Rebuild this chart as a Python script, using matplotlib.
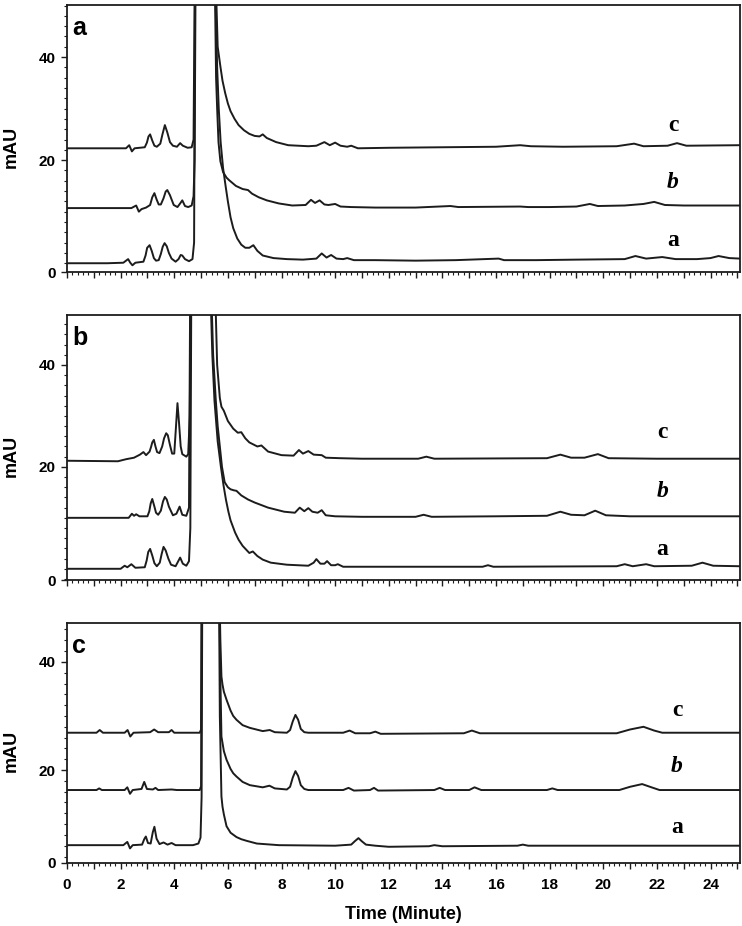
import matplotlib
matplotlib.use("Agg")
import matplotlib.pyplot as plt
from matplotlib.ticker import MultipleLocator, FuncFormatter

# ---------------- data (time in minutes, signal in mAU) ----------------
# Panel a
A_a = [(0, 0.0), (1.5, 0.0), (2.1, 0.1), (2.28, 0.8), (2.36, 0.1), (2.44, -0.4), (2.55, 0.1),
       (2.85, 0.3), (2.93, 1.5), (2.99, 3.0), (3.08, 3.5), (3.16, 2.4), (3.24, 1.0), (3.32, 0.5),
       (3.42, 0.6), (3.5, 1.8), (3.57, 3.2), (3.64, 3.9), (3.72, 3.3), (3.8, 2.0), (3.9, 0.9),
       (4.05, 0.3), (4.16, 0.8), (4.24, 1.6), (4.3, 1.5), (4.4, 0.8), (4.55, 0.4), (4.68, 0.8),
       (4.74, 4.0), (4.78, 60), (5.5, 60), (5.6, 38), (5.66, 30), (5.73, 23.5), (5.82, 18.5),
       (5.92, 14.8), (6.0, 12.0), (6.1, 8.9), (6.2, 6.8), (6.35, 4.8), (6.5, 3.6), (6.65, 3.0),
       (6.8, 3.0), (6.95, 3.5), (7.1, 2.4), (7.3, 1.5), (7.7, 1.0), (8.2, 0.8), (8.8, 0.7),
       (9.3, 0.9), (9.5, 1.9), (9.68, 1.1), (9.85, 1.6), (10.05, 0.9), (10.3, 0.8), (10.45, 1.0),
       (10.7, 0.6), (11.5, 0.6), (13.0, 0.5), (14.5, 0.6), (16.1, 0.9), (16.3, 0.6), (17.5, 0.6),
       (19.0, 0.7), (20.8, 0.8), (21.2, 1.4), (21.6, 0.9), (22.2, 1.2), (22.7, 0.8), (23.5, 0.8),
       (24.0, 1.0), (24.3, 1.4), (24.7, 1.0), (25.1, 0.9)]
A_b = [(0, 10.7), (2.4, 10.7), (2.58, 11.2), (2.68, 10.0), (2.78, 10.5), (2.95, 10.8), (3.1, 11.3),
       (3.18, 12.8), (3.26, 13.6), (3.34, 12.4), (3.42, 11.4), (3.5, 11.4), (3.6, 12.6), (3.68, 13.9),
       (3.74, 14.2), (3.84, 13.2), (3.98, 11.3), (4.12, 10.9), (4.22, 11.6), (4.3, 12.2), (4.4, 11.1),
       (4.52, 10.9), (4.65, 11.2), (4.72, 13.0), (4.76, 20.0), (4.8, 60), (5.5, 60), (5.56, 36),
       (5.6, 30), (5.65, 23.5), (5.72, 19.8), (5.82, 17.7), (5.95, 16.6), (6.05, 16.1), (6.3, 15.0),
       (6.55, 14.4), (6.75, 14.2), (6.9, 13.5), (7.15, 12.8), (7.45, 12.2), (7.9, 11.6), (8.4, 11.2),
       (8.9, 11.3), (9.1, 12.3), (9.25, 11.7), (9.42, 12.2), (9.6, 11.4), (9.75, 11.3), (10.0, 11.5),
       (10.2, 11.0), (10.6, 10.9), (11.5, 10.8), (13.0, 10.8), (14.3, 11.1), (14.6, 10.9), (16.9, 11.0),
       (17.2, 10.9), (18.0, 10.9), (19.0, 11.0), (19.5, 11.5), (19.8, 11.1), (20.8, 11.2), (21.5, 11.5),
       (21.9, 11.9), (22.3, 11.3), (23.0, 11.2), (25.1, 11.2)]
A_c = [(0, 22.3), (2.2, 22.3), (2.32, 22.9), (2.42, 21.7), (2.52, 22.3), (2.9, 22.5), (2.98, 23.4),
       (3.04, 24.6), (3.1, 25.0), (3.18, 23.8), (3.26, 22.8), (3.35, 22.6), (3.48, 23.2), (3.56, 25.0),
       (3.65, 26.8), (3.74, 25.4), (3.84, 23.5), (3.95, 22.8), (4.1, 22.6), (4.22, 23.3), (4.32, 22.8),
       (4.5, 22.4), (4.65, 22.5), (4.72, 24.0), (4.77, 60), (5.52, 60), (5.62, 42), (5.72, 38.2),
       (5.8, 35.4), (5.9, 33.0), (6.0, 31.0), (6.1, 29.5), (6.25, 28.0), (6.4, 26.8), (6.6, 25.8),
       (6.8, 25.1), (7.0, 24.7), (7.18, 24.6), (7.3, 25.0), (7.45, 24.3), (7.8, 23.5), (8.25, 22.9),
       (9.0, 22.7), (9.3, 22.8), (9.6, 23.5), (9.8, 22.9), (10.0, 23.4), (10.2, 22.8), (10.45, 22.6),
       (10.6, 22.8), (10.85, 22.3), (12.0, 22.4), (14.0, 22.5), (16.0, 22.6), (16.9, 22.9), (17.3, 22.7),
       (18.5, 22.6), (20.5, 22.7), (21.15, 23.2), (21.5, 22.7), (22.4, 22.8), (22.75, 23.3), (23.1, 22.8),
       (25.1, 22.9)]

# Panel b
B_a = [(0, 0.0), (2.0, 0.0), (2.15, 0.6), (2.25, 0.3), (2.4, 0.9), (2.55, 0.2), (2.9, 0.3),
       (2.97, 1.6), (3.03, 3.3), (3.1, 3.9), (3.18, 2.6), (3.26, 1.1), (3.35, 0.5), (3.46, 1.2),
       (3.53, 2.9), (3.6, 4.3), (3.68, 3.6), (3.78, 2.0), (3.88, 0.8), (4.05, 0.5), (4.15, 1.5),
       (4.22, 2.2), (4.32, 1.0), (4.45, 0.6), (4.55, 1.5), (4.6, 8.0), (4.64, 60), (5.32, 60),
       (5.42, 42), (5.5, 33), (5.62, 25), (5.74, 20), (5.84, 16.3), (5.93, 13.5), (6.02, 11.2),
       (6.1, 9.5), (6.27, 7.1), (6.4, 5.7), (6.55, 4.5), (6.8, 3.1), (6.93, 3.4), (7.1, 2.5),
       (7.3, 1.8), (7.6, 1.2), (8.2, 0.8), (9.0, 0.6), (9.2, 1.2), (9.3, 1.9), (9.45, 1.0),
       (9.6, 1.0), (9.7, 1.5), (9.85, 0.7), (10.0, 0.7), (10.1, 0.9), (10.3, 0.4), (12.0, 0.4),
       (15.5, 0.4), (15.7, 0.7), (15.9, 0.4), (20.5, 0.5), (20.8, 0.9), (21.1, 0.5), (21.6, 0.9),
       (21.9, 0.5), (23.3, 0.6), (23.7, 1.2), (24.1, 0.6), (25.1, 0.5)]
B_b = [(0, 10.0), (2.3, 10.0), (2.42, 10.8), (2.5, 10.4), (2.58, 10.7), (2.7, 10.3), (3.0, 10.3),
       (3.07, 11.3), (3.12, 12.8), (3.18, 13.7), (3.25, 12.4), (3.32, 11.0), (3.4, 10.6), (3.5, 11.4),
       (3.58, 13.2), (3.65, 14.1), (3.72, 13.6), (3.8, 12.2), (3.95, 10.5), (4.08, 10.8), (4.2, 12.2),
       (4.3, 10.6), (4.45, 10.4), (4.55, 12.0), (4.6, 60), (5.35, 60), (5.45, 42), (5.55, 33),
       (5.62, 28), (5.7, 24), (5.78, 20), (5.88, 17.0), (6.0, 16.0), (6.1, 15.6), (6.22, 15.4),
       (6.32, 15.3), (6.5, 14.4), (6.75, 13.6), (7.0, 13.0), (7.5, 12.0), (8.1, 11.2), (8.5, 11.0),
       (8.68, 12.0), (8.85, 11.3), (9.0, 11.9), (9.15, 11.2), (9.35, 11.0), (9.5, 11.5), (9.65, 10.5),
       (10.0, 10.3), (11.0, 10.2), (13.0, 10.2), (13.3, 10.6), (13.6, 10.2), (16.0, 10.3), (17.9, 10.4),
       (18.4, 11.2), (18.8, 10.6), (19.3, 10.5), (19.7, 11.4), (20.1, 10.5), (21.0, 10.3), (25.1, 10.3)]
B_c = [(0, 21.2), (1.9, 21.1), (2.2, 21.5), (2.5, 21.8), (2.72, 22.4), (2.85, 22.9), (2.95, 22.3),
       (3.08, 23.0), (3.14, 24.0), (3.18, 24.8), (3.24, 25.3), (3.3, 24.0), (3.36, 22.9), (3.45, 22.7),
       (3.55, 24.0), (3.62, 25.6), (3.7, 26.6), (3.76, 26.2), (3.84, 24.3), (3.92, 22.6), (4.0, 22.6),
       (4.06, 27.5), (4.12, 32.5), (4.18, 28.5), (4.24, 24.0), (4.3, 22.5), (4.45, 22.0), (4.52, 22.5),
       (4.58, 30.0), (4.62, 60), (5.5, 60), (5.6, 40), (5.7, 33.5), (5.76, 31.8), (5.85, 31.0),
       (6.0, 29.0), (6.2, 27.5), (6.37, 26.7), (6.5, 26.8), (6.65, 25.6), (6.8, 24.8), (7.1, 24.0),
       (7.25, 24.2), (7.5, 23.0), (8.0, 22.3), (8.45, 22.2), (8.65, 23.3), (8.8, 22.6), (9.0, 23.1),
       (9.2, 22.4), (9.5, 22.3), (9.65, 21.8), (10.2, 21.7), (11.0, 21.6), (13.1, 21.6), (13.4, 22.0),
       (13.7, 21.6), (17.9, 21.7), (18.4, 22.4), (18.8, 21.8), (19.3, 21.8), (19.8, 22.5), (20.2, 21.7),
       (22.0, 21.6), (25.1, 21.6)]

# Panel c
C_a = [(0, 6.1), (2.1, 6.1), (2.25, 6.7), (2.35, 5.5), (2.45, 6.1), (2.8, 6.2), (2.88, 7.2),
       (2.94, 7.7), (3.02, 6.5), (3.12, 6.4), (3.2, 8.5), (3.26, 9.5), (3.34, 7.3), (3.45, 6.3),
       (3.6, 6.6), (3.75, 6.2), (3.9, 6.5), (4.05, 6.1), (4.7, 6.1), (4.9, 6.4), (4.98, 7.5),
       (5.02, 15), (5.05, 60), (5.66, 60), (5.7, 30), (5.76, 15.1), (5.8, 13.2), (5.85, 11.8),
       (5.95, 9.6), (6.1, 8.4), (6.32, 7.6), (6.5, 7.2), (6.7, 6.9), (7.08, 6.4), (7.9, 6.1),
       (10.0, 6.0), (10.6, 6.2), (10.75, 6.9), (10.87, 7.4), (11.0, 6.8), (11.15, 6.2), (11.5, 6.0),
       (12.0, 5.8), (13.5, 5.9), (13.7, 6.1), (14.0, 5.9), (16.8, 6.0), (17.0, 6.2), (17.2, 6.0),
       (25.1, 6.0)]
C_b = [(0, 16.3), (1.1, 16.3), (1.2, 16.6), (1.3, 16.3), (2.15, 16.3), (2.25, 16.8), (2.35, 15.6),
       (2.45, 16.3), (2.78, 16.5), (2.88, 17.8), (2.98, 16.5), (3.2, 16.4), (3.3, 16.7), (3.4, 16.3),
       (3.9, 16.4), (4.1, 16.3), (4.95, 16.3), (5.0, 17.0), (5.03, 60), (5.66, 60), (5.72, 37),
       (5.76, 26.2), (5.85, 23.5), (5.95, 21.9), (6.1, 20.2), (6.2, 19.4), (6.32, 18.8), (6.55, 17.8),
       (6.82, 17.2), (7.3, 16.8), (7.55, 17.1), (7.75, 16.6), (8.2, 16.4), (8.32, 16.9), (8.42, 18.6),
       (8.52, 19.8), (8.62, 18.9), (8.72, 17.2), (8.85, 16.5), (9.0, 16.3), (10.3, 16.3), (10.5, 16.7),
       (10.7, 16.2), (11.3, 16.3), (11.45, 16.7), (11.6, 16.2), (13.7, 16.3), (13.9, 16.7), (14.1, 16.3),
       (15.0, 16.3), (15.2, 16.8), (15.45, 16.3), (17.9, 16.3), (18.1, 16.6), (18.3, 16.3), (20.6, 16.3),
       (21.0, 16.9), (21.45, 17.4), (21.8, 16.8), (22.1, 16.3), (25.1, 16.3)]
C_c = [(0, 26.9), (1.1, 26.9), (1.22, 27.4), (1.34, 26.9), (2.15, 26.9), (2.26, 27.4), (2.36, 26.2),
       (2.48, 26.9), (3.1, 27.0), (3.25, 27.5), (3.4, 27.0), (3.8, 27.0), (3.9, 27.4), (4.0, 26.9),
       (4.95, 26.9), (5.0, 27.5), (5.03, 60), (5.66, 60), (5.72, 44), (5.76, 37.3), (5.8, 35.8),
       (5.85, 34.5), (5.95, 33.0), (6.1, 31.0), (6.2, 30.0), (6.32, 29.3), (6.55, 28.3), (6.82, 27.8),
       (7.3, 27.2), (7.56, 27.4), (7.75, 27.0), (8.2, 26.9), (8.32, 27.4), (8.42, 29.0), (8.52, 30.2),
       (8.62, 29.3), (8.72, 27.6), (8.85, 27.0), (9.0, 26.9), (10.3, 26.9), (10.54, 27.3), (10.75, 26.8),
       (11.3, 26.8), (11.5, 27.1), (11.7, 26.7), (14.8, 26.8), (15.1, 27.3), (15.4, 26.8), (20.5, 26.8),
       (21.0, 27.5), (21.5, 28.0), (21.9, 27.3), (22.2, 26.9), (25.1, 26.9)]

panel_names = ["a", "b", "c"]
trace_names = ["a", "b", "c"]
panel_traces = [[A_a, A_b, A_c], [B_a, B_b, B_c], [C_a, C_b, C_c]]
panel_ylims = [(-1.7, 50.1), (-2.2, 49.8), (2.8, 47.2)]
label_x = [22.6, 22.2, 22.75]
label_y = [[4.5, 15.7, 26.8], [3.7, 15.1, 26.7], [9.4, 20.6, 31.1]]
ytick_values = [20, 40]
ytick_labels = ["0", "20", "40"]
xlim = (0, 25.1)

# ---------------- figure ----------------
W, H = 742, 926
fig = plt.figure(figsize=(W / 100, H / 100), dpi=100)
L, R = 67, 740
boxes = [(5, 272), (315, 580), (623, 863)]
sans = "Liberation Sans"
serif = "Liberation Serif"
col = "#1c1c1c"

for i, (top, bot) in enumerate(boxes):
    ax = fig.add_axes([L / W, 1 - bot / H, (R - L) / W, (bot - top) / H])
    for j, trace in enumerate(panel_traces[i]):
        t = [p[0] for p in trace]
        v = [p[1] for p in trace]
        ax.plot(t, v, color=col, lw=1.4, solid_joinstyle="round")
        st = "italic" if trace_names[j] == "b" else "normal"
        ax.text(label_x[i], label_y[i][j], trace_names[j], fontfamily=serif,
                fontweight="bold", fontstyle=st, fontsize=17, ha="center",
                va="center", color="black")
    ylo, yhi = panel_ylims[i]
    ax.set_xlim(*xlim)
    ax.set_ylim(ylo, yhi)
    ax.set_yticks([ylo] + ytick_values)
    ax.set_yticklabels(ytick_labels, fontfamily=sans, fontweight="bold", fontsize=11)
    ax.yaxis.set_minor_locator(MultipleLocator(2))
    ax.xaxis.set_major_locator(MultipleLocator(1))
    ax.xaxis.set_minor_locator(MultipleLocator(0.2))
    if i == 2:
        ax.xaxis.set_major_formatter(FuncFormatter(
            lambda x, pos: f"{int(round(x))}" if int(round(x)) % 2 == 0 else ""))
        for lab in ax.get_xticklabels():
            lab.set_fontfamily(sans)
            lab.set_fontweight("bold")
            lab.set_fontsize(11)
        ax.set_xlabel("Time (Minute)", fontfamily=sans, fontweight="bold",
                      fontsize=13, labelpad=10)
    else:
        ax.xaxis.set_major_formatter(FuncFormatter(lambda x, pos: ""))
    ax.tick_params(axis="both", which="major", direction="out", length=4,
                   width=1.0, color=col, pad=4)
    ax.tick_params(axis="both", which="minor", direction="out", length=2,
                   width=0.8, color=col)
    ax.tick_params(axis="x", which="major", pad=7)
    for s in ax.spines.values():
        s.set_linewidth(1.3)
        s.set_color(col)
    ax.text(0.008, 1 - 23 / (bot - top), panel_names[i], transform=ax.transAxes,
            fontfamily=sans, fontweight="bold", fontsize=18, ha="left", va="center")
    fig.text(11 / W, 1 - ((top + bot) / 2 + 8) / H, "mAU", rotation=90,
             fontfamily=sans, fontweight="bold", fontsize=13, ha="center", va="center")

fig.savefig("out.png", dpi=100, facecolor="white")
